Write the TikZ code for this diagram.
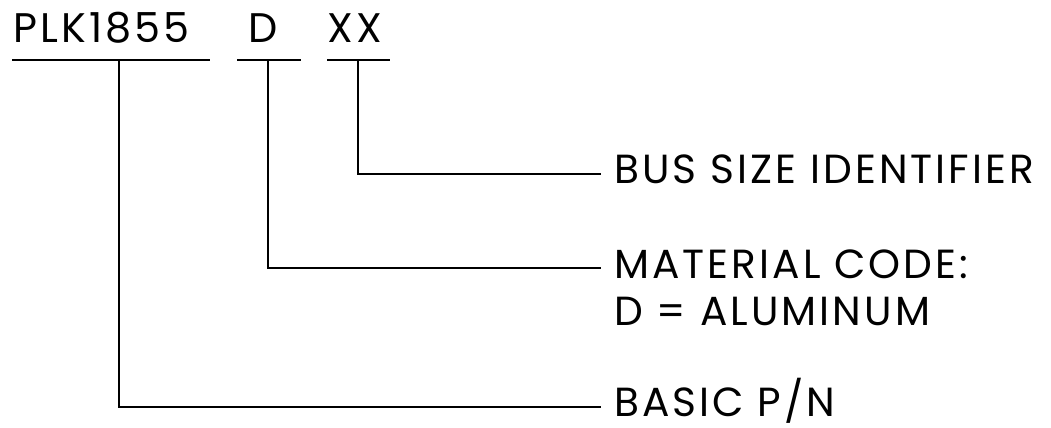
\documentclass[tikz,border=0pt]{standalone}
\usepackage{fontspec}
\newfontfamily\gothic[LetterSpace=7.5]{Poppins}
\begin{document}
\begin{tikzpicture}[x=0.75pt,y=0.75pt,yscale=-1,xscale=1,
  code/.style={anchor=base west, inner sep=0pt, font=\gothic\fontsize{31}{36}\selectfont},
  callout/.style={anchor=base west, inner sep=0pt, font=\gothic\fontsize{30.5}{36}\selectfont},
  lead/.style={line width=2pt, line cap=rect}]
\useasboundingbox (0,0) rectangle (1051,428);

% part number fields
\node [code] (plk) at (13,43) {PLK1855};
\node [code] (mat) at (248,43) {D};
\node [code] (bus) at (327,43) {XX};

% underlines
\coordinate (plk-l) at (13,60);  \coordinate (plk-r) at (209,60);
\coordinate (mat-l) at (238,60); \coordinate (mat-r) at (300,60);
\coordinate (bus-l) at (328,60); \coordinate (bus-r) at (389,60);
\draw [lead] (plk-l) -- (plk-r);
\draw [lead] (mat-l) -- (mat-r);
\draw [lead] (bus-l) -- (bus-r);

% stems
\coordinate (plk-stem) at (119,60);
\coordinate (mat-stem) at (268,60);
\coordinate (bus-stem) at (358,60);

% lead ends
\coordinate (bus-end) at (600,174);
\coordinate (mat-end) at (600,268);
\coordinate (plk-end) at (600,407);

% callouts
\node [callout] (bus-text) at (614,184) {BUS SIZE IDENTIFIER};
\node [callout] (mat-text) at (614,278) {MATERIAL CODE:};
\node [callout] (mat-text2) at (614,325) {D = ALUMINUM};
\node [callout] (plk-text) at (614,416) {BASIC P/N};

% leaders
\draw [lead] (bus-stem) |- (bus-end);
\draw [lead] (mat-stem) |- (mat-end);
\draw [lead] (plk-stem) |- (plk-end);

\end{tikzpicture}
\end{document}
